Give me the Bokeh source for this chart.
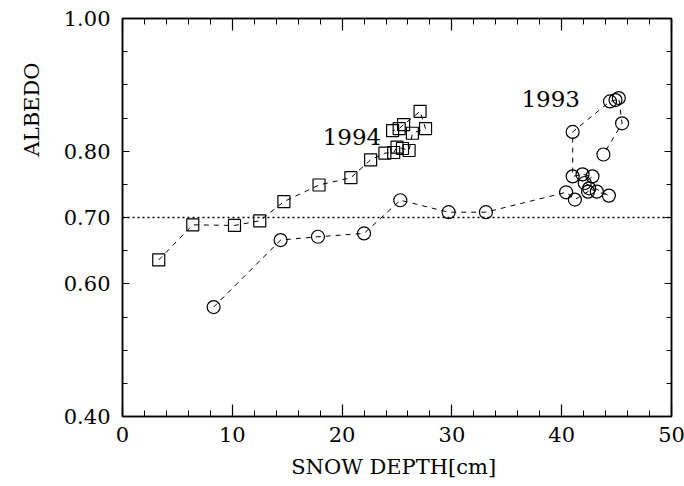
import numpy as np
from bokeh.plotting import figure
from bokeh.models import FixedTicker, Span, LinearAxis, NumeralTickFormatter, Title
from bokeh.embed import file_html
from bokeh.resources import INLINE
from bokeh.core.properties import value

# ---- data ----
depth_1994 = [3.3, 6.4, 10.2, 12.5, 14.7, 17.9, 20.8, 22.6, 23.9, 24.7, 25.0, 25.5,
              26.1, 26.4, 27.6, 27.1, 25.6, 25.2, 24.6]
albedo_1994 = [0.636, 0.689, 0.688, 0.695, 0.724, 0.749, 0.760, 0.787, 0.797, 0.798,
               0.806, 0.804, 0.801, 0.827, 0.834, 0.860, 0.840, 0.834, 0.831]

depth_1993 = [8.3, 14.4, 17.8, 22.0, 25.3, 29.7, 33.1, 40.4, 41.2, 42.4, 42.5, 43.2,
              44.3, 42.1, 42.8, 41.9, 41.0, 41.0, 44.4, 44.9, 45.2, 45.5, 43.8]
albedo_1993 = [0.565, 0.666, 0.671, 0.676, 0.726, 0.708, 0.708, 0.738, 0.727, 0.739,
               0.744, 0.739, 0.733, 0.752, 0.762, 0.765, 0.762, 0.829, 0.875, 0.877,
               0.880, 0.842, 0.795]

x_major_ticks = [0, 10, 20, 30, 40, 50]
x_minor_ticks = [2, 4, 6, 8, 12, 14, 16, 18, 22, 24, 26, 28, 32, 34, 36, 38, 42, 44, 46, 48]
y_major_ticks = [0.40, 0.60, 0.70, 0.80, 1.00]
y_minor_ticks = [0.45, 0.50, 0.55, 0.65, 0.75, 0.85, 0.90, 0.95]
reference_albedo = 0.70

series_labels = ["1994", "1993"]
label_x = [20.9, 39.0]
label_y = [0.822, 0.879]

SERIF = "DejaVu Serif"

p = figure(frame_width=549, frame_height=398, x_range=(0, 50), y_range=(0.40, 1.00),
           output_backend="svg", toolbar_location=None,
           min_border_left=121, min_border_right=14, min_border_top=18, min_border_bottom=66)

p.grid.visible = False
p.outline_line_color = "black"
p.outline_line_width = 1.5
p.background_fill_color = "white"
p.border_fill_color = "white"

def style_axis(ax, major, minor, maj_len, min_len, labels=True):
    ax.ticker = FixedTicker(ticks=major, minor_ticks=minor)
    ax.major_tick_in = maj_len
    ax.major_tick_out = 0
    ax.minor_tick_in = min_len
    ax.minor_tick_out = 0
    ax.axis_line_color = "black"
    ax.axis_line_width = 1.5
    ax.major_tick_line_color = "black"
    ax.minor_tick_line_color = "black"
    ax.major_tick_line_width = 1.2
    ax.minor_tick_line_width = 1
    if labels:
        ax.major_label_text_font = SERIF
        ax.major_label_text_font_size = "21px"
        ax.major_label_text_color = "black"
    else:
        ax.major_label_text_font_size = "0px"
        ax.major_label_text_color = None
        ax.major_label_standoff = 0

xb = p.xaxis[0]
style_axis(xb, x_major_ticks, x_minor_ticks, 12, 6)
xb.major_label_standoff = 10
xb.axis_label = "SNOW  DEPTH[cm]"
xb.axis_label_text_font = SERIF
xb.axis_label_text_font_size = "21px"
xb.axis_label_text_font_style = "normal"
xb.axis_label_text_color = "black"
xb.axis_label_standoff = 10

yl = p.yaxis[0]
style_axis(yl, y_major_ticks, y_minor_ticks, 7, 5)
yl.formatter = NumeralTickFormatter(format="0.00")
yl.major_label_standoff = 12

xt = LinearAxis()
style_axis(xt, x_major_ticks, x_minor_ticks, 12, 6, labels=False)
p.add_layout(xt, "above")

yr = LinearAxis()
style_axis(yr, y_major_ticks, y_minor_ticks, 7, 5, labels=False)
p.add_layout(yr, "right")

p.add_layout(Title(text="ALBEDO", align="right", offset=44, standoff=34,
                   text_font=SERIF, text_font_size="21px", text_font_style="normal",
                   text_color="black"), "left")

p.add_layout(Span(location=reference_albedo, dimension="width", line_color="black",
                  line_width=1.3, line_dash="2 3"))

p.line(depth_1994, albedo_1994, line_color="black", line_width=1, line_dash="5 5")
p.scatter(depth_1994, albedo_1994, marker="square", size=12, line_color="black",
          line_width=1.2, fill_color=None)

p.line(depth_1993, albedo_1993, line_color="black", line_width=1, line_dash="5 5")
p.scatter(depth_1993, albedo_1993, marker="circle", size=13, line_color="black",
          line_width=1.2, fill_color=None)

p.text(x=label_x, y=label_y, text=series_labels, text_font=value(SERIF),
       text_font_size="23px", text_align="center", text_baseline="middle",
       text_color="black")

open("out.html", "w").write(file_html(p, INLINE))
